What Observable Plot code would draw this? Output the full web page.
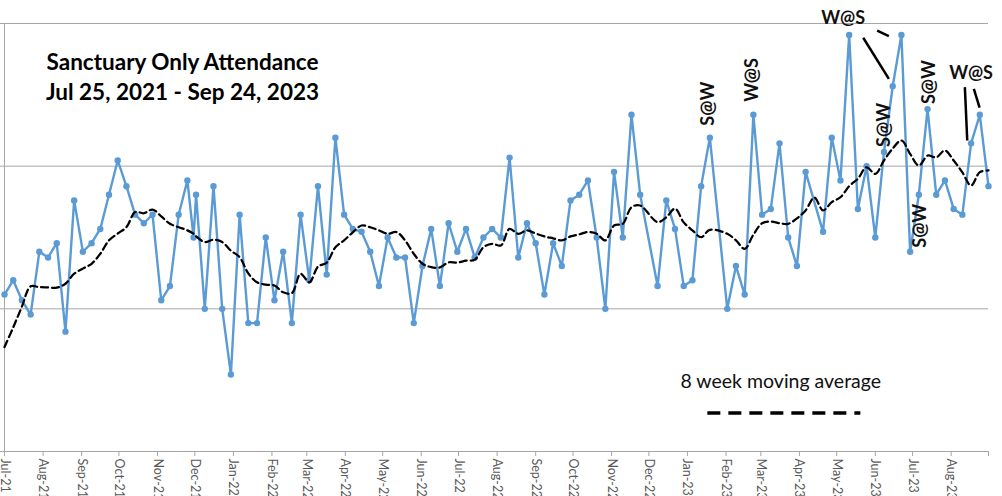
<!DOCTYPE html>
<html>
<head>
<meta charset="utf-8">
<script src="https://cdn.jsdelivr.net/npm/d3@7"></script>
<script src="https://cdn.jsdelivr.net/npm/@observablehq/plot@0.6"></script>
<style>
  html, body { margin: 0; padding: 0; background: #fff; }
  #chart { width: 1002px; height: 496px; overflow: hidden; }
</style>
</head>
<body>
<div id="chart"></div>
<script>
// ---- Data ----
const serviceDates = [
  "2021-07-25","2021-08-01","2021-08-08","2021-08-15","2021-08-22","2021-08-29","2021-09-05","2021-09-12",
  "2021-09-19","2021-09-26","2021-10-03","2021-10-10","2021-10-17","2021-10-24","2021-10-31","2021-11-07",
  "2021-11-14","2021-11-21","2021-11-28","2021-12-05","2021-12-12","2021-12-19","2021-12-24","2021-12-26",
  "2022-01-02","2022-01-09","2022-01-16","2022-01-23","2022-01-30","2022-02-06","2022-02-13","2022-02-20",
  "2022-02-27","2022-03-06","2022-03-13","2022-03-20","2022-03-27","2022-04-03","2022-04-10","2022-04-17",
  "2022-04-24","2022-05-01","2022-05-08","2022-05-15","2022-05-22","2022-05-29","2022-06-05","2022-06-12",
  "2022-06-19","2022-06-26","2022-07-03","2022-07-10","2022-07-17","2022-07-24","2022-07-31","2022-08-07",
  "2022-08-14","2022-08-21","2022-08-28","2022-09-04","2022-09-11","2022-09-18","2022-09-25","2022-10-02",
  "2022-10-09","2022-10-16","2022-10-23","2022-10-30","2022-11-06","2022-11-13","2022-11-20","2022-11-27",
  "2022-12-04","2022-12-11","2022-12-18","2023-01-01","2023-01-08","2023-01-15","2023-01-22","2023-01-29",
  "2023-02-05","2023-02-12","2023-02-26","2023-03-05","2023-03-12","2023-03-19","2023-03-26","2023-04-02",
  "2023-04-09","2023-04-16","2023-04-23","2023-04-30","2023-05-14","2023-05-21","2023-05-28","2023-06-04",
  "2023-06-11","2023-06-18","2023-06-25","2023-07-02","2023-07-09","2023-07-16","2023-07-23","2023-07-30",
  "2023-08-06","2023-08-13","2023-08-20","2023-08-27","2023-09-03","2023-09-10","2023-09-17","2023-09-24"
];
const attendance = [
  55, 60, 53, 48, 70, 68, 73, 42,
  88, 70, 73, 78, 90, 102, 93, 83,
  80, 83, 53, 58, 83, 95, 75, 90,
  50, 93, 50, 27, 83, 45, 45, 75,
  53, 70, 45, 83, 60, 93, 62, 110,
  83, 78, 77, 70, 58, 75, 68, 68,
  45, 65, 78, 58, 80, 70, 78, 68,
  75, 78, 75, 103, 68, 80, 73, 55,
  73, 65, 88, 90, 95, 75, 50, 98,
  75, 118, 90, 58, 88, 78, 58, 60,
  93, 110, 50, 65, 55, 118, 83, 85,
  108, 75, 65, 98, 77, 110, 95, 146,
  85, 100, 75, 105, 128, 146, 70, 90,
  120, 90, 95, 85, 83, 108, 118, 93
];
// 8-week moving average: same dates, plus one extra value on 2023-05-07
const maDates = [
  ...serviceDates.slice(0, 92), "2023-05-07", ...serviceDates.slice(92)
];
const movingAverage = [
  36.6, 43.5, 50.8, 57.9, 57.6, 57.5, 57.4, 58.8,
  62.3, 64.1, 65.8, 69.3, 74.0, 76.4, 78.6, 83.9,
  83.5, 84.8, 82.4, 79.8, 78.6, 77.5, 76.3, 75.4,
  73.4, 74.2, 73.4, 70.4, 68.1, 62.4, 59.3, 58.5,
  58.2, 55.8, 55.5, 62.3, 59.3, 64.8, 66.2, 71.6,
  74.0, 76.8, 79.2, 78.6, 77.5, 76.3, 76.9, 74.0,
  69.3, 65.8, 64.6, 64.5, 66.3, 66.2, 66.9, 67.2,
  71.6, 72.8, 72.2, 78.0, 76.3, 77.5, 76.4, 75.4,
  74.7, 74.0, 75.4, 76.1, 76.9, 76.3, 74.0, 79.2,
  79.8, 85.6, 86.2, 80.4, 82.1, 85.1, 80.3, 77.5,
  75.1, 77.7, 76.3, 74.0, 71.0, 76.0, 80.0, 80.6,
  80.0, 79.8, 81.7, 84.5, 89.0, 84.5, 87.4, 89.1, 93.0,
  95.6, 99.6, 97.3, 102.0, 106.2, 109.0, 104.3, 100.2,
  103.7, 103.1, 105.5, 102.0, 97.8, 93.2, 97.9, 98.5
];

// Axis: first and last dates, horizontal gridline values
const axisStart = "2021-07-25";
const axisEnd = "2023-09-24";
const gridValues = [50, 100, 150];

// Annotation labels anchored to services
const annotations = [
  {date: "2023-02-12", label: "S@W"},
  {date: "2023-03-19", label: "W@S"},
  {date: "2023-06-04", label: "W@S"},
  {date: "2023-07-02", label: "S@W"},
  {date: "2023-07-30", label: "S@W"},
  {date: "2023-08-06", label: "S@W"},
  {date: "2023-09-10", label: "W@S"}
];
const leaderLines = [
  {x1: "2023-06-26T12:00Z", y1: 147.5, x2: "2023-07-05T22:00Z", y2: 145.6},
  {x1: "2023-06-15T07:00Z", y1: 145.0, x2: "2023-07-05T22:00Z", y2: 130.6},
  {x1: "2023-09-05T00:00Z", y1: 127.7, x2: "2023-09-06T22:00Z", y2: 109.0},
  {x1: "2023-09-12T05:00Z", y1: 127.1, x2: "2023-09-16T20:00Z", y2: 120.5}
];
const titleLines = ["Sanctuary Only Attendance", "Jul 25, 2021 - Sep 24, 2023"];
const legendLabel = "8 week moving average";
const legendTextAt = {date: "2023-04-10", value: 24.5};
const legendLine = {x1: "2023-02-10", x2: "2023-06-13", y: 13.5};

// ---- Build ----
const rows = serviceDates.map((d, i) => ({date: new Date(d), value: attendance[i]}));
const maRows = maDates.map((d, i) => ({date: new Date(d), ma: movingAverage[i]}));
const byDate = new Map(rows.map(r => [+r.date, r]));
const monthTicks = d3.range(26).map(i => new Date(Date.UTC(2021, 6 + i, 25)));
const endTick = new Date(axisEnd);
const fmt = d3.utcFormat("%b-%y");

const BLUE = "#5b9bd5";
const GRID = "#a6a6a6";
const FONT = "Lato, 'Open Sans', sans-serif";

// annotation placement (pixel offsets from the labelled point)
const annStyle = [
  {rotate: -90, anchor: "start", dx: -2, dy: -12},
  {rotate: -90, anchor: "start", dx: -1, dy: -13},
  {rotate: 0, anchor: "middle", dx: -6, dy: -17},
  {rotate: -90, anchor: "start", dx: 0, dy: -5},
  {rotate: -90, anchor: "end", dx: 1, dy: 9},
  {rotate: -90, anchor: "start", dx: 2, dy: -5},
  {rotate: 0, anchor: "middle", dx: 0, dy: -70}
];

const annMarks = annotations.map((a, i) => {
  const r = byDate.get(+new Date(a.date));
  const s = annStyle[i];
  return Plot.text([{date: r.date, value: r.value, label: a.label}], {
    x: "date", y: "value", text: "label",
    rotate: s.rotate, textAnchor: s.anchor, lineAnchor: "middle",
    dx: s.dx, dy: s.dy, fontSize: 18, fontWeight: "bold", fill: "#111", fontFamily: FONT
  });
});

const chart = Plot.plot({
  width: 1002,
  height: 496,
  marginLeft: 4,
  marginRight: 14,
  marginTop: 23,
  marginBottom: 45,
  style: {fontFamily: FONT, background: "#fff", overflow: "visible"},
  x: {type: "utc", domain: [new Date(axisStart), new Date(axisEnd)]},
  y: {domain: [0, 150]},
  marks: [
    Plot.ruleY(gridValues, {stroke: GRID, strokeWidth: 1}),
    Plot.axisY({ticks: [0, ...gridValues], tickSize: 4, tickFormat: () => "", stroke: GRID, label: null}),
    Plot.ruleX([new Date(axisStart)], {stroke: GRID, strokeWidth: 1}),
    Plot.ruleY([0], {stroke: GRID, strokeWidth: 1}),
    Plot.axisX({
      ticks: [...monthTicks, endTick],
      tickFormat: d => (+d === +endTick ? "" : fmt(d)),
      tickRotate: 90, tickSize: 5, tickPadding: 2,
      stroke: GRID, fill: "#595959", color: "#595959",
      fontSize: 12.5, label: null
    }),
    Plot.line(rows, {x: "date", y: "value", stroke: BLUE, strokeWidth: 2.4}),
    Plot.dot(rows, {x: "date", y: "value", r: 3.2, fill: BLUE, stroke: "none"}),
    Plot.line(maRows, {x: "date", y: "ma", stroke: "#000", strokeWidth: 2.25, strokeDasharray: "7,4", curve: "catmull-rom"}),
    ...annMarks,
    Plot.link(leaderLines, {
      x1: d => new Date(d.x1), y1: "y1", x2: d => new Date(d.x2), y2: "y2",
      stroke: "#000", strokeWidth: 2.5
    }),
    Plot.text([titleLines.join("\n")], {
      frameAnchor: "top-left", dx: 178, dy: 52, text: d => d,
      textAnchor: "middle", lineAnchor: "middle", lineHeight: 1.35,
      fontSize: 22.5, fontWeight: "bold", fill: "#000", fontFamily: FONT
    }),
    Plot.text([legendTextAt], {
      x: d => new Date(d.date), y: "value", text: () => legendLabel,
      textAnchor: "middle", lineAnchor: "middle", fontSize: 19.5, fill: "#111", fontFamily: FONT
    }),
    Plot.link([legendLine], {
      x1: d => new Date(d.x1), x2: d => new Date(d.x2), y1: "y", y2: "y",
      stroke: "#000", strokeWidth: 3.5, strokeDasharray: "13,8"
    })
  ]
});
document.getElementById("chart").appendChild(chart);
</script>
</body>
</html>
